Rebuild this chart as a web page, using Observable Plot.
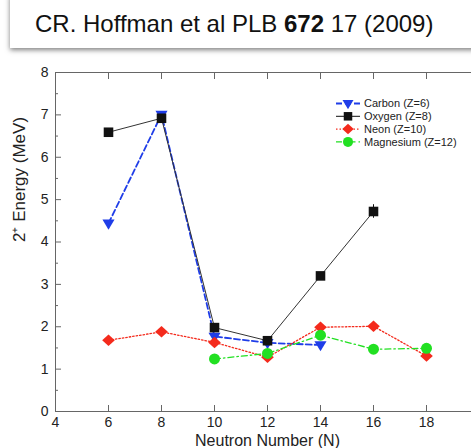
<!DOCTYPE html>
<html><head><meta charset="utf-8">
<script src="https://cdn.jsdelivr.net/npm/d3@7"></script>
<script src="https://cdn.jsdelivr.net/npm/@observablehq/plot@0.6"></script>
<style>
html,body{margin:0;padding:0;background:#fff;overflow:hidden;width:471px;height:448px;}
#title{position:absolute;left:10px;top:-6px;width:490px;height:54px;background:#fff;box-shadow:0 2px 5px rgba(0,0,0,0.5);font-family:"Liberation Sans",Arial,Helvetica,sans-serif;font-size:24px;color:#111;z-index:2;}
#title span{position:absolute;left:25px;top:16px;white-space:nowrap;line-height:normal;}
#chart{position:absolute;left:0;top:0;width:490px;height:448px;}
#chart svg{max-width:none !important;}
</style></head><body>
<div id="title"><span>CR. Hoffman et al PLB <b>672</b> 17 (2009)</span></div>
<div id="chart"></div>
<script>
// ---- data ----
const carbonN = [6, 8, 10, 12, 14];
const carbonE = [4.44, 7.01, 1.77, 1.62, 1.57];
const oxygenN = [6, 8, 10, 12, 14, 16];
const oxygenE = [6.59, 6.92, 1.98, 1.67, 3.20, 4.72];
const oxygenErr = [0, 0, 0, 0, 0, 0.16];
const neonN = [6, 8, 10, 12, 14, 16, 18];
const neonE = [1.68, 1.88, 1.63, 1.28, 1.99, 2.01, 1.31];
const magnesiumN = [10, 12, 14, 16, 18];
const magnesiumE = [1.24, 1.37, 1.80, 1.47, 1.49];
const seriesNames = ["Carbon (Z=6)", "Oxygen (Z=8)", "Neon (Z=10)", "Magnesium (Z=12)"];
const xTicks = [4, 6, 8, 10, 12, 14, 16, 18];
const yTicks = [0, 1, 2, 3, 4, 5, 6, 7, 8];
const yMinorTicks = [0.5, 1.5, 2.5, 3.5, 4.5, 5.5, 6.5, 7.5];
const xLabel = "Neutron Number (N)";
const yLabel = "2\u207A Energy (MeV)";

// ---- styles ----
const fam = '"Liberation Sans", Arial, Helvetica, sans-serif';
const blue = "#1f3de8", black = "#111", red = "#f42a1c", green = "#22e022";

const triDown = {draw(ctx, size) { const r = Math.sqrt(size / Math.PI);
  ctx.moveTo(-1.1 * r, -0.68 * r); ctx.lineTo(1.1 * r, -0.68 * r); ctx.lineTo(0, 1.15 * r); ctx.closePath(); }};
const diamond = {draw(ctx, size) { const r = Math.sqrt(size / Math.PI);
  ctx.moveTo(0, -1.05 * r); ctx.lineTo(1.15 * r, 0); ctx.lineTo(0, 1.05 * r); ctx.lineTo(-1.15 * r, 0); ctx.closePath(); }};

const rows = (N, E, err) => N.map((n, i) => ({n, e: E[i], err: err ? err[i] : 0}));
const carbon = rows(carbonN, carbonE);
const oxygen = rows(oxygenN, oxygenE, oxygenErr);
const neon = rows(neonN, neonE);
const magnesium = rows(magnesiumN, magnesiumE);

const series = [
  {name: seriesNames[0], color: blue, dash: "6,3", width: 1.8, symbol: triDown, lr: 5},
  {name: seriesNames[1], color: black, dash: null, width: 1, symbol: d3.symbolSquare, lr: 4.8},
  {name: seriesNames[2], color: red, dash: "1.5,2", width: 1.3, symbol: diamond, lr: 5},
  {name: seriesNames[3], color: green, dash: "6,3,1.5,3", width: 1.3, symbol: d3.symbolCircle, lr: 5}
];

const chart = Plot.plot({
  width: 490, height: 448,
  marginLeft: 55, marginRight: 11, marginTop: 72, marginBottom: 37,
  style: {fontFamily: fam, color: "#222", background: "transparent", maxWidth: "none"},
  x: {domain: [4, 20], axis: null, label: null},
  y: {domain: [0, 8], axis: null, label: null},
  marks: [
    Plot.frame({stroke: "#666"}),
    Plot.axisX(xTicks, {anchor: "bottom", tickSize: -6, tickPadding: 12, fontSize: 14, label: null, stroke: "#666"}),
    Plot.axisX(xTicks, {anchor: "top", tickSize: -6, fill: "none", label: null, stroke: "#666"}),
    Plot.axisY(yTicks, {anchor: "left", tickSize: -6, tickPadding: 13, fontSize: 14, label: null, stroke: "#666"}),
    Plot.axisY(yTicks, {anchor: "right", tickSize: -6, fill: "none", label: null, stroke: "#666"}),
    Plot.axisY(yMinorTicks, {anchor: "left", tickSize: -3, fill: "none", label: null, stroke: "#666"}),
    Plot.axisY(yMinorTicks, {anchor: "right", tickSize: -3, fill: "none", label: null, stroke: "#666"}),
    Plot.text([xLabel], {frameAnchor: "bottom", dy: 29, text: d => d, fontSize: 16, lineAnchor: "middle", fill: "#222"}),
    Plot.text([yLabel], {frameAnchor: "left", dx: -35.5, rotate: -90, text: d => d, fontSize: 17, lineAnchor: "middle", fill: "#222"}),
    // Carbon
    Plot.line(carbon, {x: "n", y: "e", stroke: blue, strokeWidth: 1.8, strokeDasharray: "6,3"}),
    Plot.dot(carbon, {x: "n", y: "e", symbol: triDown, r: 5.5, fill: blue}),
    // Oxygen
    Plot.ruleX(oxygen.filter(d => d.err > 0), {x: "n", y1: d => d.e - d.err, y2: d => d.e + d.err, stroke: black}),
    Plot.line(oxygen, {x: "n", y: "e", stroke: "#333", strokeWidth: 1}),
    Plot.dot(oxygen, {x: "n", y: "e", symbol: "square", r: 5.4, fill: black}),
    // Neon
    Plot.line(neon, {x: "n", y: "e", stroke: red, strokeWidth: 1.3, strokeDasharray: "1.5,2"}),
    Plot.dot(neon, {x: "n", y: "e", symbol: diamond, r: 5.5, fill: red}),
    // Magnesium
    Plot.line(magnesium, {x: "n", y: "e", stroke: green, strokeWidth: 1.3, strokeDasharray: "6,3,1.5,3"}),
    Plot.dot(magnesium, {x: "n", y: "e", symbol: "circle", r: 5.5, fill: green})
  ]
});
document.getElementById("chart").appendChild(chart);

// ---- legend ----
const lg = d3.select(chart).append("g").attr("font-family", fam).attr("font-size", 11)
  .attr("fill", "#222").attr("text-anchor", "start");
series.forEach((s, i) => {
  const y = 103.5 + i * 12.8;
  lg.append("line").attr("x1", 336).attr("x2", 360).attr("y1", y).attr("y2", y)
    .attr("stroke", s.color).attr("stroke-width", s.width).attr("stroke-dasharray", s.dash);
  lg.append("path").attr("transform", `translate(348,${y})`)
    .attr("d", d3.symbol().type(s.symbol).size(Math.PI * s.lr * s.lr)()).attr("fill", s.color);
  lg.append("text").attr("x", 364).attr("y", y).attr("dy", "0.35em").text(s.name);
});
</script>
</body></html>
